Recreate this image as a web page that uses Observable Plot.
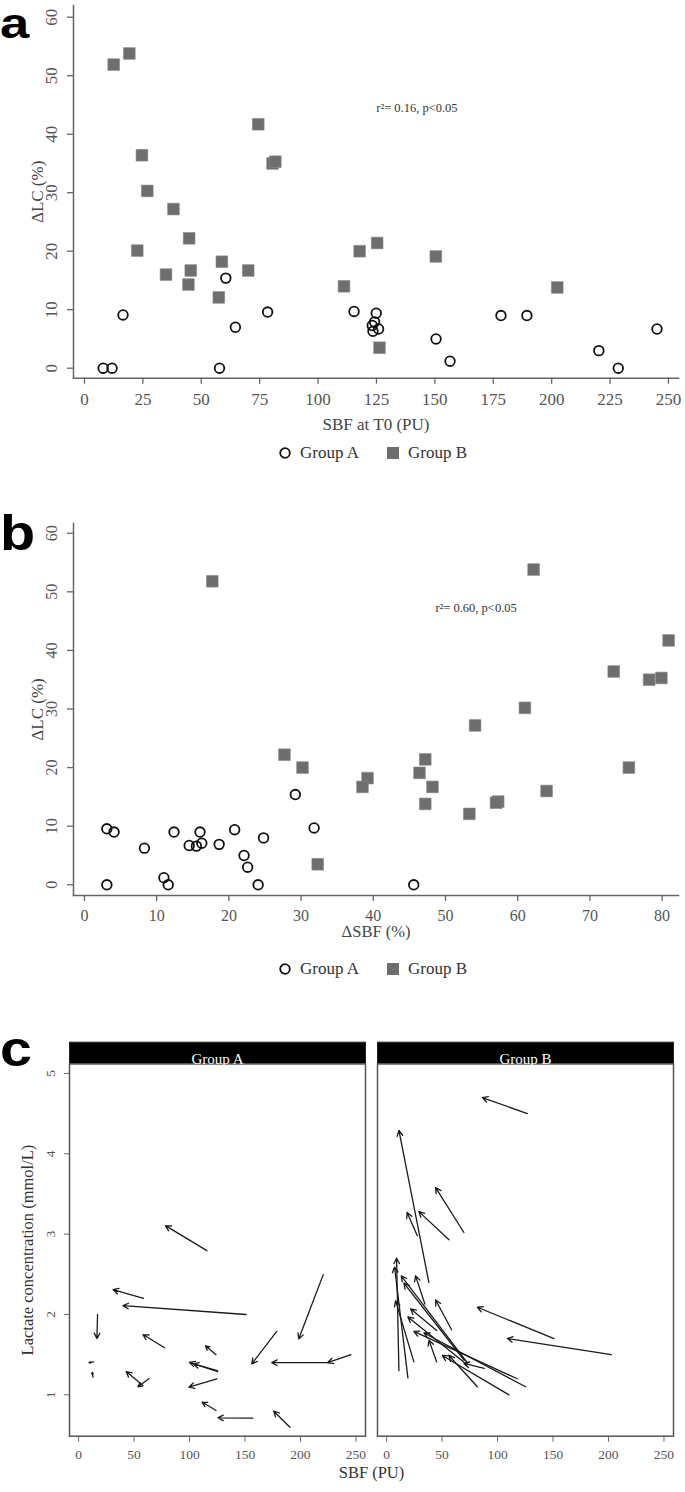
<!DOCTYPE html>
<html><head><meta charset="utf-8">
<script src="https://cdn.jsdelivr.net/npm/d3@7"></script>
<script src="https://cdn.jsdelivr.net/npm/@observablehq/plot@0.6"></script>
<style>
body{margin:0;background:#fff;}
#root{position:relative;width:685px;height:1492px;overflow:hidden;font-family:"Liberation Serif",serif;background:#fff;}
.panel{position:absolute;left:0;}
.letter{position:absolute;left:0;font-family:"Liberation Sans",Arial,sans-serif;font-weight:bold;font-size:50px;line-height:32px;transform:scaleX(1.15);transform-origin:left;}
.leg{position:absolute;font-size:17px;color:#333;line-height:17px;white-space:nowrap;}
</style></head><body><div id="root"></div>
<script>
// ---------- DATA ----------
const groups = ["Group A", "Group B"];
const yTicksAB = [0, 10, 20, 30, 40, 50, 60];
const xTicksA = [0, 25, 50, 75, 100, 125, 150, 175, 200, 225, 250];
const xTicksB = [0, 10, 20, 30, 40, 50, 60, 70, 80];
const xTicksC = [0, 50, 100, 150, 200, 250];
const yTicksC = [1, 2, 3, 4, 5];

// Panel a: SBF at T0 (PU) vs ΔLC (%)
const a_sbf_A = [8.0, 11.8, 16.5, 57.8, 60.5, 64.6, 78.4, 115.4, 124.9, 124.2, 123.2, 125.9, 123.5, 150.5, 156.5, 178.3, 189.4, 220.2, 228.5, 245.1];
const a_dlc_A = [0, 0, 9.1, 0, 15.4, 7.0, 9.6, 9.7, 9.4, 7.9, 7.3, 6.7, 6.3, 5.0, 1.2, 9.0, 9.0, 3.0, 0, 6.7];
const a_sbf_B = [12.5, 19.2, 24.6, 26.9, 38.1, 44.8, 22.6, 34.9, 45.5, 44.5, 58.8, 57.5, 70.1, 74.4, 80.5, 81.7, 111.1, 117.8, 125.3, 150.4, 202.4, 126.3];
const a_dlc_B = [51.9, 53.8, 36.4, 30.3, 27.2, 22.2, 20.1, 16.0, 16.7, 14.3, 18.2, 12.1, 16.7, 41.7, 35.0, 35.3, 14.0, 20.0, 21.4, 19.1, 13.8, 3.5];

// Panel b: ΔSBF (%) vs ΔLC (%)
const b_dsbf_A = [3.1, 4.1, 3.1, 8.3, 11.0, 11.6, 12.4, 14.5, 15.5, 16.25, 16.0, 18.65, 20.8, 22.1, 22.6, 24.05, 24.8, 29.2, 31.8, 45.6];
const b_dlc_A = [9.55, 9.0, 0, 6.25, 1.2, 0, 9.0, 6.7, 6.6, 7.1, 9.0, 6.9, 9.4, 5.0, 3.0, 0, 8.0, 15.4, 9.7, 0];
const b_dsbf_B = [17.7, 27.7, 30.2, 32.3, 62.2, 80.9, 73.3, 78.2, 79.9, 61.0, 54.1, 47.2, 46.4, 48.2, 47.2, 39.2, 38.5, 57.3, 57.0, 53.3, 64.0, 75.4];
const b_dlc_B = [51.8, 22.2, 20.0, 3.5, 53.8, 41.7, 36.4, 35.0, 35.3, 30.2, 27.2, 21.4, 19.1, 16.7, 13.8, 18.2, 16.7, 14.2, 14.0, 12.1, 16.0, 20.0];

// Panel c: SBF (PU) and lactate (mmol/L), T0 -> T1 per patient
const c_sbf0_A = [115.6, 220.5, 58.5, 150.9, 17.1, 178.6, 245.5, 225.9, 77.5, 123.9, 125.5, 125.0, 124.6, 63.4, 58.0, 123.9, 157.0, 190.5, 13.5, 13.0];
const c_lac0_A = [2.795, 2.496, 2.20, 2.00, 2.00, 1.79, 1.50, 1.40, 1.585, 1.50, 1.29, 1.30, 1.20, 1.20, 1.115, 0.805, 0.709, 0.597, 1.41, 1.22];
const c_sbf1_A = [78.3, 198.4, 31.0, 40.0, 16.5, 156.1, 224.5, 174.1, 58.0, 114.3, 99.9, 103.4, 99.4, 53.5, 42.9, 111.3, 125.5, 175.9, 9.4, 12.3];
const c_lac1_A = [3.106, 1.696, 2.31, 2.11, 1.70, 1.385, 1.40, 1.40, 1.75, 1.61, 1.405, 1.385, 1.095, 1.10, 1.29, 0.91, 0.714, 0.796, 1.40, 1.28];

const c_sbf0_B = [126.9, 38.1, 69.7, 56.2, 27.7, 150.9, 202.6, 58.6, 34.5, 11.1, 19.2, 24.6, 72.7, 70.0, 45.1, 72.0, 117.8, 125.3, 45.1, 110.3, 81.8, 88.0];
const c_lac0_B = [4.50, 2.40, 3.02, 2.93, 2.98, 1.70, 1.50, 1.81, 2.13, 1.30, 1.21, 1.41, 1.40, 1.43, 1.80, 1.38, 1.20, 1.10, 1.41, 1.00, 1.10, 1.33];
const c_sbf1_B = [86.3, 11.1, 44.2, 29.1, 18.5, 81.8, 108.8, 44.2, 26.1, 9.0, 7.2, 8.1, 13.2, 15.6, 21.6, 19.2, 24.6, 33.7, 38.2, 50.2, 56.2, 69.7];
const c_lac1_B = [4.70, 4.29, 3.58, 3.28, 3.27, 2.09, 1.70, 2.18, 2.48, 2.70, 2.59, 2.17, 2.48, 2.39, 2.07, 1.97, 1.79, 1.77, 1.68, 1.49, 1.49, 1.39];

const annA = "r\u00B2= 0.16, p<0.05";
const annB = "r\u00B2= 0.60, p<0.05";
const yTitleAB = "\u0394LC (%)";
const xTitleA = "SBF at T0 (PU)";
const xTitleB = "\u0394SBF (%)";
const yTitleC = "Lactate concentration (mmol/L)";
const xTitleC = "SBF (PU)";

// ---------- BUILD ----------
const root = document.getElementById("root");
const FONT = '"Liberation Serif", "Times New Roman", serif';
const pts = (xs, ys) => xs.map((x, i) => ({x, y: ys[i]}));

function place(node, top) {
  const d = document.createElement("div");
  d.className = "panel";
  d.style.top = top + "px";
  d.appendChild(node);
  root.appendChild(d);
}

function scatter({xDomain, yDomain, xTicks, height, mt, mb, xTitle, xTitleDy, tickFont, tickPad, titleFont, ann, annX, annY, A, B}) {
  return Plot.plot({
    width: 685, height, marginTop: mt, marginBottom: mb, marginLeft: 73, marginRight: 7,
    x: {domain: xDomain}, y: {domain: yDomain},
    style: {fontFamily: FONT, fontSize: tickFont + "px", color: "#555", background: "transparent", overflow: "visible"},
    marks: [
      Plot.frame({anchor: "left", stroke: "#666", strokeWidth: 1.5}),
      Plot.frame({anchor: "bottom", stroke: "#666", strokeWidth: 1.5}),
      Plot.axisX({ticks: xTicks, tickSize: 6, tickPadding: tickPad, label: null, tickFormat: d => String(d), stroke: "#666", strokeWidth: 1.3}),
      Plot.axisY({ticks: yTicksAB, tickSize: 6, label: null, tickFormat: () => "", stroke: "#666", strokeWidth: 1.3}),
      Plot.text(yTicksAB, {y: d => d, text: d => String(d), frameAnchor: "left", dx: -22, rotate: -90, textAnchor: "middle", fill: "#555", fontSize: tickFont}),
      Plot.text([xTitle], {frameAnchor: "bottom", dy: xTitleDy, fontSize: titleFont, fill: "#444", textAnchor: "middle"}),
      Plot.text([yTitleAB], {frameAnchor: "left", dx: -36.3, rotate: -90, fontSize: 17, fill: "#444", textAnchor: "middle"}),
      Plot.text([ann], {x: annX, y: annY, textAnchor: "start", fontSize: 12.5, fill: "#333"}),
      Plot.dot(A, {x: "x", y: "y", r: 4.8, stroke: "#111", strokeWidth: 1.8, fill: "none"}),
      Plot.dot(B, {x: "x", y: "y", symbol: "square", r: 6.6, fill: "#6e6e6e", stroke: "#8a8a8a", strokeWidth: 0.6})
    ]
  });
}

place(scatter({
  xDomain: [-4.7, 254.3], yDomain: [-1.71, 62.0], xTicks: xTicksA, height: 445, mt: 5, mb: 67.3,
  xTitle: xTitleA, xTitleDy: 51.3, tickFont: 17, tickPad: 9, titleFont: 17, ann: annA, annX: 124.9, annY: 44.4,
  A: pts(a_sbf_A, a_dlc_A), B: pts(a_sbf_B, a_dlc_B)
}), 0);

place(scatter({
  xDomain: [-1.52, 82.27], yDomain: [-1.83, 61.66], xTicks: xTicksB, height: 445, mt: 23, mb: 50,
  xTitle: xTitleB, xTitleDy: 41.5, tickFont: 16, tickPad: 8, titleFont: 16.5, ann: annB, annX: 48.6, annY: 47.3,
  A: pts(b_dsbf_A, b_dlc_A), B: pts(b_dsbf_B, b_dlc_B)
}), 500);

const arrows = [
  ...c_sbf0_A.map((x, i) => ({g: groups[0], x1: x, y1: c_lac0_A[i], x2: c_sbf1_A[i], y2: c_lac1_A[i]})),
  ...c_sbf0_B.map((x, i) => ({g: groups[1], x1: x, y1: c_lac0_B[i], x2: c_sbf1_B[i], y2: c_lac1_B[i]}))
];

const plotC = Plot.plot({
  width: 685, height: 492, marginTop: 63.3, marginBottom: 56.3, marginLeft: 68.3, marginRight: 11.7,
  fx: {domain: groups, paddingInner: 0.0402, paddingOuter: 0, axis: null, label: null},
  x: {domain: [-8.2, 258.6]}, y: {domain: [0.485, 5.12]},
  style: {fontFamily: FONT, fontSize: "13.5px", color: "#555", background: "transparent", overflow: "visible"},
  marks: [
    Plot.frame({fill: "black", stroke: "#222", insetTop: -21.6, insetBottom: 372.4}),
    Plot.frame({stroke: "#555", strokeWidth: 1.5}),
    Plot.text(groups, {fx: d => d, text: d => d, frameAnchor: "top", dy: -10.8, fill: "white", fontSize: 15}),
    Plot.axisX({ticks: xTicksC, tickSize: 6, tickPadding: 7, label: null, tickFormat: d => String(d), stroke: "#666"}),
    Plot.axisY({ticks: yTicksC, tickSize: 5, label: null, tickFormat: () => "", stroke: "#666"}),
    Plot.text(yTicksC, {fx: () => groups[0], y: d => d, text: d => String(d), frameAnchor: "left", dx: -19, rotate: -90, textAnchor: "middle", fill: "#555", fontSize: 13.5}),
    Plot.text([yTitleC], {fx: () => groups[0], frameAnchor: "left", rotate: -90, dx: -41.6, fontSize: 16.5, fill: "#333", textAnchor: "middle"}),
    Plot.text([xTitleC], {fx: () => groups[0], frameAnchor: "bottom", dx: 154, dy: 42, fontSize: 16.5, fill: "#333", textAnchor: "middle"}),
    Plot.arrow(arrows, {fx: "g", x1: "x1", y1: "y1", x2: "x2", y2: "y2", stroke: "#1a1a1a", strokeWidth: 1.3, headLength: 7, headAngle: 55})
  ]
});
place(plotC, 1000);

// panel letters
[["a", 8, 42, 1.25], ["b", 517, 50, 1.15], ["c", 1033, 50, 1.15]].forEach(([t, top, fs, sx]) => {
  const d = document.createElement("div");
  d.className = "letter"; d.style.top = top + "px"; d.textContent = t;
  d.style.fontSize = fs + "px"; d.style.transform = `scaleX(${sx})`;
  root.appendChild(d);
});

// legends
function legend(cy) {
  const ns = "http://www.w3.org/2000/svg";
  const mk = (html, left) => {
    const s = document.createElementNS(ns, "svg");
    s.setAttribute("width", 14); s.setAttribute("height", 14);
    s.style.position = "absolute"; s.style.left = (left - 7) + "px"; s.style.top = (cy - 7) + "px";
    s.innerHTML = html; root.appendChild(s);
  };
  mk('<circle cx="7" cy="7" r="4.8" fill="none" stroke="#111" stroke-width="1.8"/>', 285);
  mk('<rect x="1" y="1" width="12" height="12" fill="#6e6e6e"/>', 393);
  [[groups[0], 300], [groups[1], 408]].forEach(([t, l]) => {
    const d = document.createElement("div");
    d.className = "leg"; d.style.left = l + "px"; d.style.top = (cy - 9) + "px"; d.textContent = t;
    root.appendChild(d);
  });
}
legend(453);
legend(969);
</script>
</body></html>
